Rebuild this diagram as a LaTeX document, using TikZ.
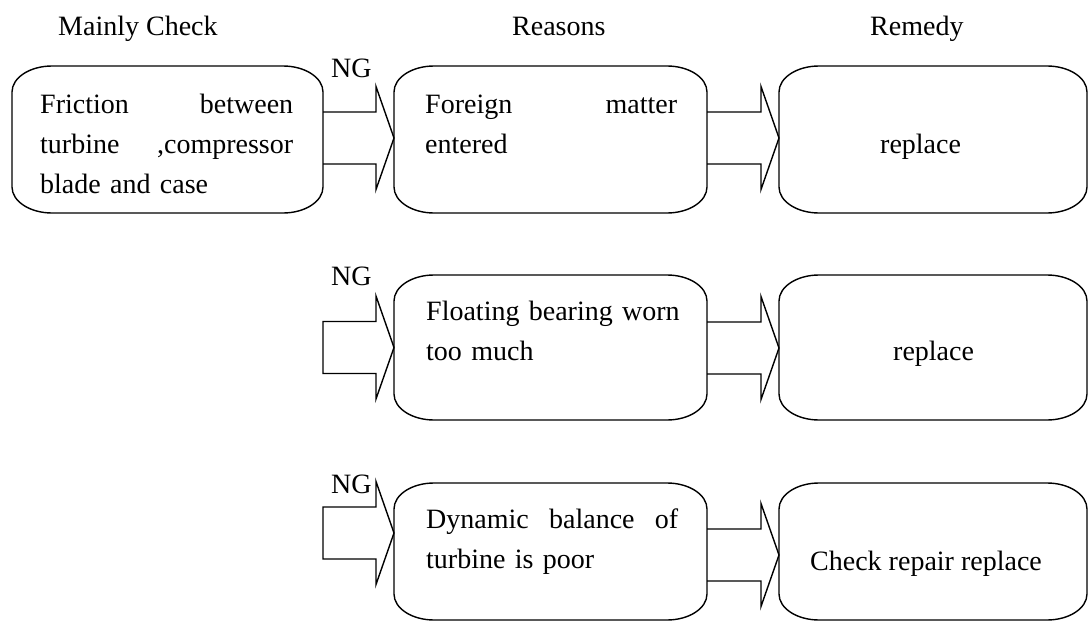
\documentclass[tikz,border=0pt]{standalone}
\usepackage{fontspec}
\setmainfont{Liberation Serif}
\usetikzlibrary{calc}
\newlength\erx \setlength\erx{40pt}
\newlength\ery \setlength\ery{26pt}
\newcommand\ebox[1]{%
  \draw[outline] ([xshift=\erx]#1.north west) -- ([xshift=-\erx]#1.north east)
    arc[start angle=90,end angle=0,x radius=\erx,y radius=\ery]
    -- ([yshift=\ery]#1.south east)
    arc[start angle=0,end angle=-90,x radius=\erx,y radius=\ery]
    -- ([xshift=\erx]#1.south west)
    arc[start angle=270,end angle=180,x radius=\erx,y radius=\ery]
    -- ([yshift=-\ery]#1.north west)
    arc[start angle=180,end angle=90,x radius=\erx,y radius=\ery] -- cycle;}
\newcommand\barrow[3]{%
  \draw[outline] let \p1=(#1), \p2=(#2) in
    (\x1,\y2+26pt) -- (\x2-18pt,\y2+26pt) -- (\x2-18pt,\y2+51.5pt) -- (\x2,\y2)
    -- (\x2-18pt,\y2-51.5pt) -- (\x2-18pt,\y2-26pt) -- (\x1,\y2-26pt) #3;}
\begin{document}
\begin{tikzpicture}[x=1pt,y=-1pt,
  outline/.style={line width=1.4pt,line join=miter},
  boxnode/.style={rectangle,inner sep=0pt,outer sep=0pt},
  lbl/.style={anchor=base west,inner sep=0pt,font=\fontsize{28}{40}\selectfont},
  para/.style={anchor=north west,inner sep=0pt,align=left,font=\fontsize{28}{40}\selectfont}]
\useasboundingbox (0,0) rectangle (1088,621);
% headers
\node[lbl] (h1) at (58,35) {Mainly Check};
\node[lbl] (h2) at (512,35) {Reasons};
\node[lbl] (h3) at (870,35) {Remedy};
% boxes
\node[boxnode,minimum width=311pt,minimum height=147pt] (A1) at (167.5,139.5) {};
\node[boxnode,minimum width=313pt,minimum height=147pt] (B1) at (550.5,139.5) {};
\node[boxnode,minimum width=308pt,minimum height=147pt] (C1) at (933,139.5) {};
\node[boxnode,minimum width=313pt,minimum height=145pt] (B2) at (550.5,347.5) {};
\node[boxnode,minimum width=308pt,minimum height=145pt] (C2) at (933,347.5) {};
\node[boxnode,minimum width=313pt,minimum height=137pt] (B3) at (550.5,551.5) {};
\node[boxnode,minimum width=308pt,minimum height=137pt] (C3) at (933,551.5) {};
\ebox{A1}\ebox{B1}\ebox{C1}\ebox{B2}\ebox{C2}\ebox{B3}\ebox{C3}
% texts
\node[para,text width=253pt] (tA1) at (40,83) {\rule{0pt}{30pt}Friction\hfill between\\turbine\hfill ,compressor\\blade and case};
\node[para,text width=252pt] (tB1) at (425,83) {\rule{0pt}{30pt}Foreign\hfill matter\\entered};
\node[para,text width=275pt] (tB2) at (426,290) {\rule{0pt}{30pt}Floating bearing worn\\too much};
\node[para,text width=252pt] (tB3) at (426,498) {\rule{0pt}{30pt}Dynamic\hfill balance\hfill of\\turbine is poor};
\node[lbl] (tC1) at (880,153) {replace};
\node[lbl] (tC2) at (893,360) {replace};
\node[lbl] (tC3) at (810,570) {Check repair replace};
% NG labels
\node[lbl] (ng1) at (331,77) {NG};
\node[lbl] (ng2) at (331,285) {NG};
\node[lbl] (ng3) at (331,493) {NG};
% arrow tips and free ends
\coordinate (t1) at (B1.west |- 0,138);
\coordinate (u1) at (C1.west |- 0,138);
\coordinate (s2) at (323,347.5);
\coordinate (t2) at (B2.west |- 0,347.5);
\coordinate (u2) at (C2.west |- 0,348);
\coordinate (s3) at (323,533);
\coordinate (t3) at (B3.west |- 0,533);
\coordinate (u3) at (C3.west |- 0,555);
% arrows
\barrow{A1.east}{t1}{}
\barrow{B1.east}{u1}{}
\barrow{s2}{t2}{-- cycle}
\barrow{B2.east}{u2}{}
\barrow{s3}{t3}{-- cycle}
\barrow{B3.east}{u3}{}
\end{tikzpicture}
\end{document}
